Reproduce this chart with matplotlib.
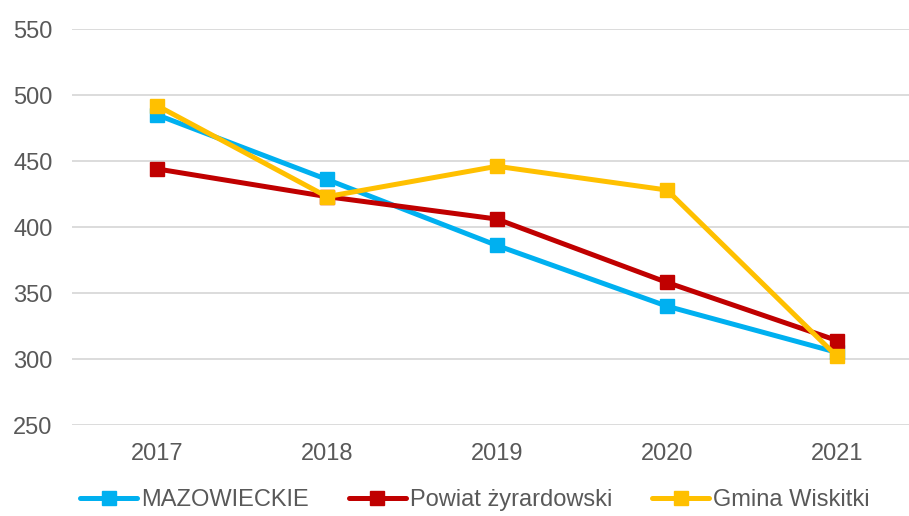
import matplotlib.pyplot as plt

years = ["2017", "2018", "2019", "2020", "2021"]
mazowieckie = [485, 436, 386, 340, 305]
powiat = [444, 423, 406, 358, 314]
gmina = [492, 423, 446, 428, 302]

series = [
    ("MAZOWIECKIE", mazowieckie, "#00B0F0"),
    ("Powiat żyrardowski", powiat, "#C00000"),
    ("Gmina Wiskitki", gmina, "#FFC000"),
]

plt.rcParams['font.family'] = ['Liberation Sans', 'DejaVu Sans']

fig = plt.figure(figsize=(9.09, 5.16), dpi=100)
ax = fig.add_axes([72 / 909, 1 - 425 / 516, 850 / 909, 396 / 516])

x = list(range(len(years)))
for name, vals, col in series:
    ax.plot(x, vals, color=col, lw=3.6, marker='s', markersize=10,
            solid_joinstyle='miter', solid_capstyle='round', label=name)

ax.set_xlim(-0.5, 4.5)
ax.set_ylim(250, 550)
ax.set_yticks(range(250, 551, 50))
ax.set_xticks(x)
ax.set_xticklabels(years)
ax.grid(axis='y', color='#D9D9D9', lw=1.3)
ax.set_axisbelow(True)
for s in ax.spines.values():
    s.set_visible(False)
ax.tick_params(axis='both', length=0, labelsize=17, colors='#595959')
ax.tick_params(axis='y', pad=14)
ax.tick_params(axis='x', pad=13)

fig.legend(loc='center', bbox_to_anchor=(475 / 909, 1 - 500 / 516), ncol=3,
           frameon=False, fontsize=17, handlelength=2.4, handletextpad=0.17,
           columnspacing=1.7, labelcolor='#595959')

fig.savefig("out.png", dpi=100)
